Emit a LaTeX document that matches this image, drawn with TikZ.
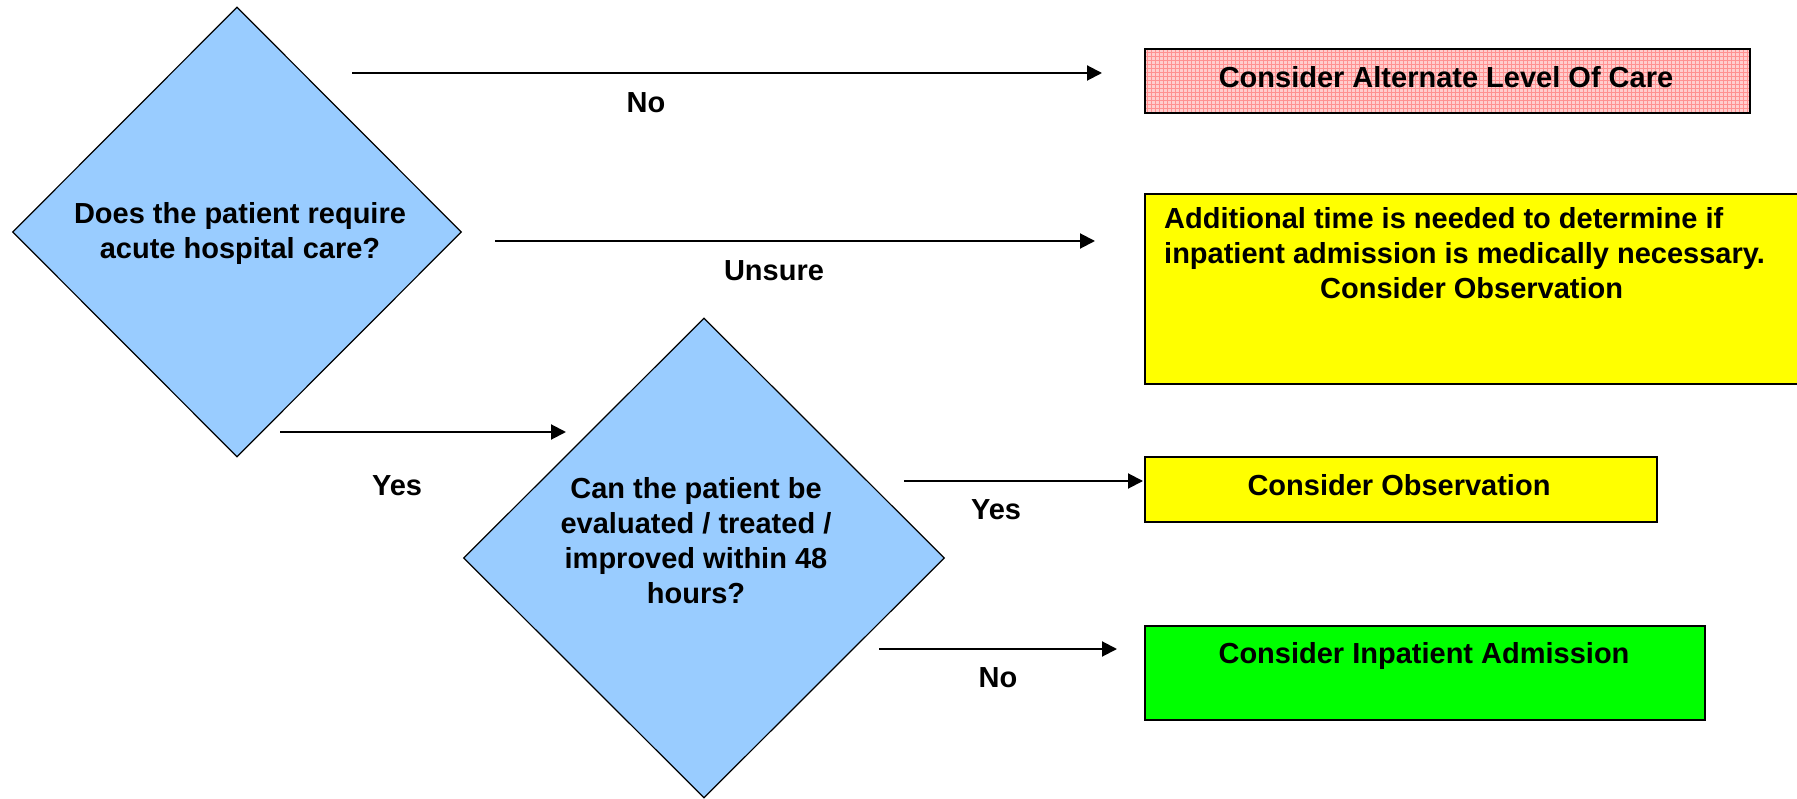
\documentclass[tikz,border=0pt]{standalone}
\usepackage{fontspec}
\setmainfont{Liberation Sans}
\usetikzlibrary{shapes.geometric,arrows.meta}
\definecolor{qblue}{RGB}{153,204,255}
\definecolor{obsyellow}{RGB}{255,255,0}
\definecolor{admgreen}{RGB}{0,255,0}
\definecolor{altpink}{RGB}{255,206,206}
\definecolor{altgrid}{RGB}{255,145,145}
\begin{document}
\begin{tikzpicture}[x=1pt,y=-1pt,
    every node/.style={font=\fontsize{29}{35}\selectfont\bfseries, inner sep=0pt},
    question/.style={diamond, draw, fill=qblue, line width=1.2pt, aspect=1},
    outcome/.style={rectangle, draw, line width=2pt, anchor=north west},
    answer/.style={text height=21pt, text depth=0pt},
    flow/.style={line width=2pt, -{Triangle[length=15pt,width=15pt]}}]

      \useasboundingbox (0,0) rectangle (1797,799);

      % decisions
      \node[question, minimum width=449, minimum height=450] (q1) at (237,232) {};
      \node[question, minimum width=481, minimum height=480] (q2) at (704,558) {};
      \node[align=center, anchor=north] (q1txt) at (240,202.5)
        {Does the patient require\\acute hospital care?};
      \node[align=center, anchor=north] (q2txt) at (696,477.5)
        {Can the patient be\\evaluated / treated /\\improved within 48\\hours?};

      % outcomes
      \node[outcome, fill=altpink, minimum width=605, minimum height=64,
        path picture={\draw[altgrid, line width=1pt]
          (path picture bounding box.south west) grid[step=4pt]
          (path picture bounding box.north east);}] (alc) at (1144,48) {};
      \node[outcome, fill=obsyellow, minimum width=700, minimum height=190] (unsure) at (1144,193) {};
      \node[outcome, fill=obsyellow, minimum width=512, minimum height=65] (obs) at (1144,456) {};
      \node[outcome, fill=admgreen, minimum width=560, minimum height=94] (adm) at (1144,625) {};

      \begin{scope}[every node/.append style={answer}]
        \node (alctxt) at (1446,77) {Consider Alternate Level Of Care};
        \node (obstxt) at (1399,485) {Consider Observation};
        \node (admtxt) at (1424,653) {Consider Inpatient Admission};
      \end{scope}
      \node[align=left, anchor=north west] (unsuretxt) at (1164,207.5)
        {Additional time is needed to determine if\\
         inpatient admission is medically necessary.\\
         \hspace*{156pt}Consider Observation};

      % connectors
      \coordinate (noA) at (352,73);   \coordinate (noB) at (1102,73);
      \coordinate (unA) at (495,241);  \coordinate (unB) at (1095,241);
      \coordinate (yesA) at (280,432); \coordinate (yesB) at (566,432);
      \coordinate (obsA) at (904,481); \coordinate (obsB) at (1143,481);
      \coordinate (admA) at (879,649); \coordinate (admB) at (1117,649);

      \draw[flow] (noA) -- (noB);
      \draw[flow] (unA) -- (unB);
      \draw[flow] (yesA) -- (yesB);
      \draw[flow] (obsA) -- (obsB);
      \draw[flow] (admA) -- (admB);

      \begin{scope}[every node/.append style={answer}]
        \node (lblno)     at (646,102) {No};
        \node (lblunsure) at (774,270) {Unsure};
        \node (lblyes)    at (397,485) {Yes};
        \node (lblyes2)   at (996,509) {Yes};
        \node (lblno2)    at (998,677) {No};
      \end{scope}

\end{tikzpicture}
\end{document}
